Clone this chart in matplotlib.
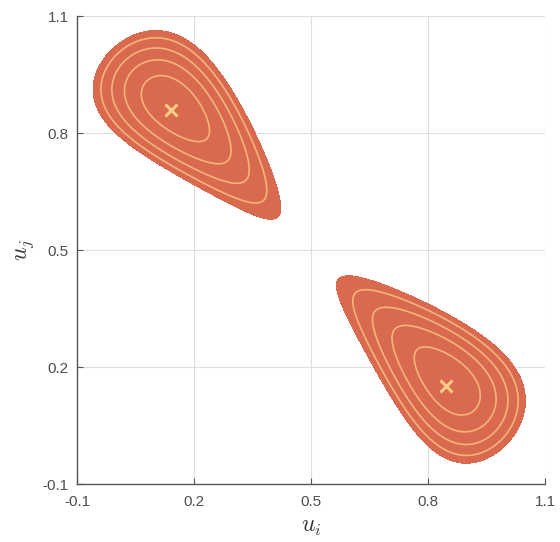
import matplotlib
matplotlib.use("Agg")
import matplotlib.pyplot as plt
import numpy as np

plt.rcParams["mathtext.fontset"] = "cm"
plt.rcParams["font.family"] = ["Liberation Sans", "DejaVu Sans"]

# axis ticks (both axes)
ticks = [-0.1, 0.2, 0.5, 0.8, 1.1]

# two teardrop components: mode, tail direction (unit vector in data space)
modes = [(0.14, 0.86), (0.846, 0.152)]
tail_dirs = [(1, -1), (-1, 1)]
skew = 2.0        # how strongly the tail is stretched
along = 0.135     # spread along the tail axis
across = 0.074    # spread across the tail axis
narrow = 0.89     # how fast the tail narrows
bend = 0.14       # slight bulge toward the upper-right side

# contour levels as fraction of the peak
fill_level = 0.135
line_levels = [0.198, 0.315, 0.487, 0.738]

lo, hi = -0.1, 1.1
fill_color = "#D9694F"
line_color = "#F4B47C"
mark_color = "#F6CB86"


def teardrop(X, Y, mode, d):
    d = np.array(d, float) / np.hypot(*d)
    dx, dy = X - mode[0], Y - mode[1]
    s = dx * d[0] + dy * d[1]
    t = (dx + dy) / np.sqrt(2)
    s2 = (1 - np.exp(-skew * s)) / skew
    t2 = (t - bend * (s + 0.216) * (0.39 - s)) * np.exp(narrow * s)
    r2 = (s2 / along) ** 2 + (t2 / across) ** 2
    return np.exp(-0.5 * r2)


g = np.linspace(lo, hi, 800)
X, Y = np.meshgrid(g, g)

fig = plt.figure(figsize=(5.6, 5.42), dpi=100)
ax = fig.add_axes([0.1375, 0.1070, 0.836, 0.863])

for mode, d in zip(modes, tail_dirs):
    Z = teardrop(X, Y, mode, d)
    ax.contourf(X, Y, Z, levels=[fill_level, 10], colors=[fill_color], zorder=2)
    ax.contour(X, Y, Z, levels=line_levels, colors=[line_color], linewidths=1.2, zorder=3)
    ax.plot(mode[0], mode[1], marker="x", color=mark_color, markersize=8, mew=2.2, zorder=4)

ax.set_xlim(lo, hi)
ax.set_ylim(lo, hi)
ax.set_xticks(ticks)
ax.set_yticks(ticks)
ax.set_xticklabels([f"{t:.1f}" for t in ticks])
ax.set_yticklabels([f"{t:.1f}" for t in ticks])
ax.grid(True, color="#DEDEDE", lw=0.8, zorder=0)
ax.set_axisbelow(True)
for s in ["top", "right"]:
    ax.spines[s].set_visible(False)
for s in ["left", "bottom"]:
    ax.spines[s].set_color("#555555")
    ax.spines[s].set_linewidth(1.0)
ax.tick_params(direction="in", length=4, colors="#555555", labelsize=11, labelcolor="#4D4D4D")
ax.tick_params(axis="x", pad=8)
ax.tick_params(axis="y", pad=6)

ax.set_xlabel(r"$u_i$", fontsize=17, color="#333333", labelpad=5)
ax.set_ylabel(r"$u_j$", fontsize=17, color="#333333", labelpad=5)

fig.savefig("out.png", dpi=100)
